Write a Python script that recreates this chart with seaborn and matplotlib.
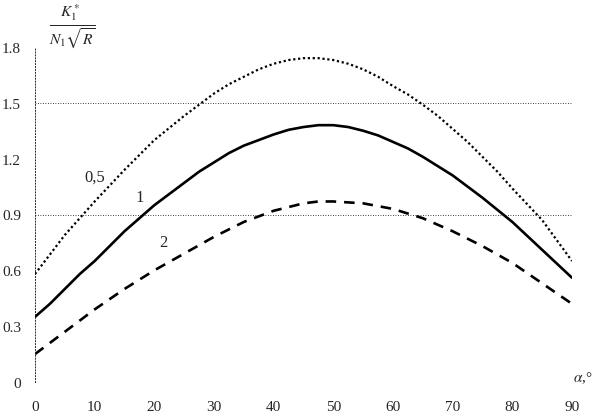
import numpy as np
import pandas as pd
import matplotlib
matplotlib.use('agg')
import matplotlib.pyplot as plt
import seaborn as sns

sns.set_style('white')
plt.rcParams['font.family'] = ['Liberation Serif', 'DejaVu Serif']
plt.rcParams['mathtext.fontset'] = 'stix'

# angle, degrees
alpha = [0, 2.5, 5, 7.5, 10, 12.5, 15, 17.5, 20, 22.5, 25, 27.5, 30, 32.5, 35,
         37.5, 40, 42.5, 45, 47.5, 50, 52.5, 55, 57.5, 60, 62.5, 65, 67.5, 70,
         72.5, 75, 77.5, 80, 82.5, 85, 87.5, 90]

# K1*/(N1 sqrt R) for the three parameter values
k_05 = [0.58, 0.685, 0.79, 0.88, 0.97, 1.055, 1.14, 1.22, 1.30, 1.365, 1.43,
        1.49, 1.55, 1.60, 1.64, 1.68, 1.71, 1.73, 1.74, 1.74, 1.73, 1.71, 1.68,
        1.64, 1.59, 1.545, 1.49, 1.43, 1.36, 1.29, 1.21, 1.13, 1.04, 0.955,
        0.87, 0.76, 0.65]
k_1 = [0.35, 0.42, 0.50, 0.58, 0.65, 0.73, 0.81, 0.88, 0.95, 1.01, 1.07, 1.13,
       1.18, 1.23, 1.27, 1.30, 1.33, 1.355, 1.37, 1.38, 1.38, 1.37, 1.35,
       1.325, 1.29, 1.255, 1.21, 1.16, 1.11, 1.05, 0.99, 0.925, 0.86, 0.785,
       0.71, 0.635, 0.56]
k_2 = [0.15, 0.21, 0.27, 0.33, 0.39, 0.445, 0.50, 0.55, 0.60, 0.645, 0.69,
       0.735, 0.78, 0.82, 0.86, 0.89, 0.92, 0.94, 0.96, 0.97, 0.97, 0.965,
       0.96, 0.945, 0.93, 0.905, 0.88, 0.845, 0.81, 0.77, 0.73, 0.685, 0.64,
       0.585, 0.53, 0.475, 0.42]

curve_labels = ['0,5', '1', '2']
label_pos = [(10.0, 1.06), (17.6, 0.95), (21.5, 0.71)]

xticks = [0, 10, 20, 30, 40, 50, 60, 70, 80, 90]
yticks = [0, 0.3, 0.6, 0.9, 1.2, 1.5, 1.8]
grid_levels = [0.9, 1.5]

df = pd.DataFrame({'alpha': alpha, '0,5': k_05, '1': k_1, '2': k_2})

fig = plt.figure(figsize=(5.94, 4.14), dpi=100)
ax = fig.add_axes([35 / 594, 1 - 383 / 414, (572 - 35) / 594, (383 - 48) / 414])

sns.lineplot(data=df, x='alpha', y='0,5', ax=ax, color='black', lw=1.6,
             linestyle=(0, (1, 1.2)))
sns.lineplot(data=df, x='alpha', y='1', ax=ax, color='black', lw=1.9)
sns.lineplot(data=df, x='alpha', y='2', ax=ax, color='black', lw=1.9,
             linestyle=(0, (4, 3)))

for lev in grid_levels:
    ax.axhline(lev, color='black', lw=0.6, linestyle=(0, (1, 2)), zorder=0)

for lab, (x, y) in zip(curve_labels, label_pos):
    ax.text(x, y, lab, fontsize=12, ha='center', va='bottom')

ax.set_xlim(0, 90)
ax.set_ylim(0, 1.8)
ax.set_xticks(xticks)
ax.set_yticks(yticks)
ax.set_xticklabels([str(t) for t in xticks])
ax.set_yticklabels(['0', '0.3', '0.6', '0.9', '1.2', '1.5', '1.8'])
ax.tick_params(axis='both', length=0, labelsize=11)
ax.tick_params(axis='x', pad=13)
ax.tick_params(axis='y', pad=10)

for side in ['top', 'right', 'bottom']:
    ax.spines[side].set_visible(False)
ax.spines['left'].set_linestyle((0, (1, 2)))
ax.spines['left'].set_linewidth(0.7)
ax.set_xlabel('')
ax.set_ylabel('')

fig.text(72 / 594, 1 - 27 / 414, r'$\frac{K_1^*}{N_1\sqrt{R}}$', fontsize=16,
         ha='center', va='center')
fig.text(573 / 594, 1 - 378 / 414, r'$\alpha$,°', fontsize=11,
         ha='left', va='center')

fig.savefig('out.png', dpi=100)
